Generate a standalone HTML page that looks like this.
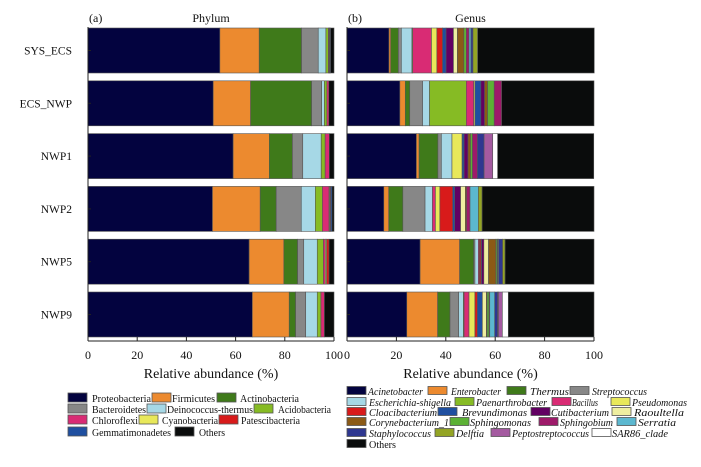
<!DOCTYPE html>
<html><head><meta charset="utf-8"><style>
body{margin:0;background:#fff;}
svg text{font-family:"Liberation Serif",serif;fill:#111;}
</style></head><body>
<svg id="c" width="701" height="462" xmlns="http://www.w3.org/2000/svg"></svg>
<script>
const samples=["SYS_ECS","ECS_NWP","NWP1","NWP2","NWP5","NWP9"];
const ticks=[0,20,40,60,80,100];
const phylumNames=["Proteobacteria","Firmicutes","Actinobacteria","Bacteroidetes","Deinococcus-thermus","Acidobacteria","Chloroflexi","Cyanobacteria","Patescibacteria","Gemmatimonadetes","Others"];
const phylumColors=["#03033f","#ec8a2f","#3f7a1a","#878787","#a6d8e6","#86bb24","#d92b74","#e8e85a","#d81a1a","#1f4fa0","#0a0c0c"];
const phylumSYS_ECS=[53.6,16,17.2,6.8,3.1,1,0.3,0.2,0.1,0.3,1.4];
const phylumECS_NWP=[50.9,15.2,24.8,4.1,1.1,1,0.8,0,0,0,2.1];
const phylumNWP1=[59,14.7,9.4,4.2,7.5,1.6,1.7,0,0,0,1.9];
const phylumNWP2=[50.6,19.4,6.5,10.2,5.7,2.9,2.7,0.3,0.3,0.6,0.8];
const phylumNWP5=[65.5,14.1,5.6,2.5,5.5,2.5,0.8,0.5,1,0,2];
const phylumNWP9=[66.8,15,2.6,4.1,4.7,1.5,1.4,0,0,0,3.9];
const phylumData=[phylumSYS_ECS,phylumECS_NWP,phylumNWP1,phylumNWP2,phylumNWP5,phylumNWP9];
const genusNames=["Acinetobacter","Enterobacter","Thermus","Streptococcus","Escherichia-shigella","Paenarthrobacter","Bacillus","Pseudomonas","Cloacibacterium","Brevundimonas","Cutibacterium","Raoultella","Corynebacterium_1","Sphingomonas","Sphingobium","Serratia","Staphylococcus","Delftia","Peptostreptococcus","SAR86_clade","Others"];
const genusColors=["#03033f","#ec8a2f","#3f7a1a","#878787","#a6d8e6","#86bb24","#d92b74","#e8e85a","#d81a1a","#1f4fa0","#620062","#eeeea0","#8b5a16","#5cb135","#9e1a6a","#5cb8d0","#2e3790","#93a424","#a45aa0","#ffffff","#0a0c0c"];
const genusSYS_ECS=[17,0.7,3.1,1.2,4.3,0.3,7.6,2.2,2.3,1.4,3,1.6,2.6,1,1.1,0.8,0.8,1.9,0,0,47.2];
const genusECS_NWP=[21.4,2.2,1.8,5.2,2.8,14.9,3,0.5,0,2.4,1.5,0,1.2,2.7,3,0,0,0,0,0,37.4];
const genusNWP1=[28.1,1.1,7.6,1.4,4.3,0,0,4.1,0,0.8,1.6,0,1,0.8,2,0,2.7,0,3.5,2,38.9];
const genusNWP2=[14.9,2,5.7,9,3,0,1.2,1.8,5.2,0.8,2.4,1.9,0.5,0,1.4,3.4,0,1.5,0,0,45.3];
const genusNWP5=[29.6,16,5.7,0.5,1.4,0,0.4,0,0.6,0.3,0.9,1.9,3,0.5,0.3,0.3,1.6,1,0,0,36];
const genusNWP9=[24.2,12.5,5,3.5,1.9,0.3,2,2.4,1,2,0,1.6,0.3,0.8,0.3,2,1.2,0.3,1.6,2.4,34.7];
const genusData=[genusSYS_ECS,genusECS_NWP,genusNWP1,genusNWP2,genusNWP5,genusNWP9];

const NS="http://www.w3.org/2000/svg";
const svg=document.getElementById('c');
function mk(tag,attrs,parent){const e=document.createElementNS(NS,tag);for(const k in attrs)e.setAttribute(k,attrs[k]);(parent||svg).appendChild(e);return e;}
const top0=28,pitch=52.8,bh=45,axisY=341;
function yRow(i){return top0+i*pitch;}
function panel(x0,x1,data,colors,title,tag,key){
  const xs=v=>x0+(x1-x0)*v/100;
  const g=mk('g',{});
  
  
  data.forEach((row,i)=>{
    let acc=0;
    row.forEach((v,j)=>{
      if(v<=0){return;}
      const r=mk('rect',{x:xs(acc),y:yRow(i),width:xs(acc+v)-xs(acc),height:bh,fill:colors[j],stroke:'#555','stroke-width':0.6},g);
      
      
      acc+=v;
    });
  });
  const ax=mk('line',{x1:x0,y1:27,x2:x0,y2:axisY,stroke:'#222','stroke-width':1},g);
  
  
  const bx=mk('line',{x1:x0,y1:axisY,x2:x1,y2:axisY,stroke:'#222','stroke-width':1},g);
  
  
  ticks.forEach(t=>{
    mk('line',{x1:xs(t),y1:axisY,x2:xs(t),y2:axisY-4,stroke:'#222'},g);
    const tl=mk('text',{x:xs(t),y:359,'font-size':12,'text-anchor':'middle'},g);
    tl.textContent=t;
    
    
  });
  samples.forEach((s,i)=>{mk('line',{x1:x0,y1:yRow(i)+bh/2,x2:x0+3,y2:yRow(i)+bh/2,stroke:'#222'},g);});
  const xt=mk('text',{x:(x0+x1)/2,y:378,'font-size':14,'text-anchor':'middle'},g);
  xt.textContent='Relative abundance (%)';
  
  
  const tt=mk('text',{x:(x0+x1)/2,y:22,'font-size':12,'text-anchor':'middle'},g);
  tt.textContent=title;
  
  
  const tg=mk('text',{x:x0+1,y:22,'font-size':12},g);
  tg.textContent=tag;
  
  
}
panel(88,334,phylumData,phylumColors,'Phylum','(a)','phylum');
panel(347,594,genusData,genusColors,'Genus','(b)','genus');
samples.forEach((s,i)=>{
  const t=mk('text',{x:72,y:yRow(i)+bh/2+4,'font-size':11.5,'text-anchor':'end'});
  t.textContent=s;
  
  
});
// legend layout: [index, swatch x, text x, text end x, row y]
const phyLeg=[[0,68,92,151,398],[1,152,172,215,398],[2,217,240,299,398],[3,68,92,146,409],[4,147,167,253,409],[5,254,278,331,409],[6,68,92,138,420],[7,139,162,218,420],[8,219,241,300,420],[9,68,92,171,432],[10,175,199,225,432]];
phyLeg.forEach(([k,sx,tx,te,y])=>{
  const g=mk('g',{});
  
  
  mk('rect',{x:sx,y:y-5,width:19,height:9,fill:phylumColors[k],stroke:'#555','stroke-width':0.8},g);
  const t=mk('text',{x:tx,y:y+4,'font-size':11,textLength:te-tx,lengthAdjust:'spacingAndGlyphs'},g);t.textContent=phylumNames[k];
});
const genLeg=[[0,347,368,423,391],[1,428,451,501,391],[2,507,530,569,391],[3,570,592,647,391],
[4,347,369,451,402],[5,455,476,547,402],[6,552,572,598,402],[7,611,632,687,402],
[8,347,369,437,412],[9,438,462,527,412],[10,531,551,609,412],[11,612,634,684,412],
[12,347,369,449,422],[13,450,470,531,422],[14,539,560,613,422],[15,617,638,676,422],
[16,347,369,431,433],[17,435,456,484,433],[18,491,512,589,433],[19,592,612,668,433],[20,347,369,396,444]];
genLeg.forEach(([k,sx,tx,te,y])=>{
  const g=mk('g',{});
  
  
  mk('rect',{x:sx,y:y-4.5,width:19,height:8,fill:genusColors[k],stroke:'#555','stroke-width':0.8},g);
  const t=mk('text',{x:tx,y:y+4,'font-size':11,'font-style':k===20?'normal':'italic',textLength:te-tx,lengthAdjust:'spacingAndGlyphs'},g);t.textContent=genusNames[k];
});
</script>
</body></html>
